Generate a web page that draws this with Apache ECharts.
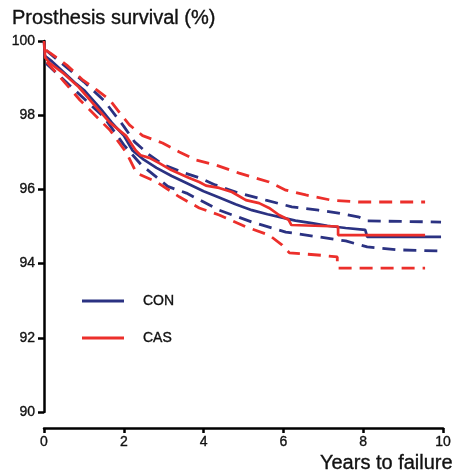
<!DOCTYPE html>
<html>
<head>
<meta charset="utf-8">
<script src="https://cdn.jsdelivr.net/npm/echarts@6/dist/echarts.min.js"></script>
<style>
html,body{margin:0;padding:0;background:#fff;}
#c{width:454px;height:474px;}
</style>
</head>
<body>
<div id="c"></div>
<script>
// Kaplan-Meier curves: [years, survival %]
var conSurv = [[0,100],[0.02,99.6],[0.2,99.45],[0.5,99.15],[0.8,98.85],[1.0,98.68],[1.4,98.2],[1.7,97.8],[2.0,97.45],[2.22,97.05],[2.5,96.8],[2.82,96.58],[3.2,96.36],[3.57,96.17],[4.0,95.95],[4.39,95.78],[4.8,95.6],[5.21,95.44],[5.6,95.33],[5.89,95.26],[6.3,95.16],[6.71,95.09],[7.1,95.02],[7.56,94.96],[8.05,94.91],[8.1,94.72],[9.95,94.72]];
var conUpper = [[0.05,99.75],[0.5,99.35],[1.0,98.9],[1.5,98.4],[2.0,97.7],[2.27,97.28],[2.64,96.93],[2.97,96.68],[3.45,96.47],[3.9,96.31],[4.29,96.12],[4.89,95.9],[5.56,95.71],[6.21,95.53],[6.88,95.44],[7.38,95.36],[7.9,95.25],[8.1,95.15],[9.95,95.12]];
var conLower = [[0.05,99.4],[0.5,98.95],[1.0,98.45],[1.5,97.95],[2.0,97.2],[2.44,96.66],[2.82,96.33],[3.1,96.08],[3.57,95.9],[4.39,95.44],[5.21,95.12],[6.06,94.85],[6.88,94.72],[7.56,94.61],[8.1,94.45],[8.88,94.37],[9.95,94.34]];
var casSurv = [[0,100],[0.03,99.55],[0.15,99.4],[0.5,99.12],[0.87,98.76],[1.2,98.35],[1.65,97.8],[2.05,97.45],[2.3,97.05],[2.42,96.92],[2.64,96.85],[2.9,96.7],[3.19,96.52],[3.64,96.31],[3.89,96.2],[4.06,96.1],[4.39,96.04],[4.71,95.93],[5.06,95.71],[5.39,95.63],[5.64,95.5],[5.89,95.31],[6.13,95.18],[6.2,95.04],[7.37,95.0],[7.37,94.77],[9.55,94.77]];
var casUpper = [[0.05,99.75],[0.15,99.68],[0.57,99.35],[0.97,98.95],[1.32,98.68],[1.65,98.41],[1.9,98.06],[2.14,97.74],[2.47,97.45],[2.97,97.25],[3.39,97.01],[3.82,96.79],[4.3,96.66],[4.89,96.44],[5.64,96.2],[6.06,95.98],[6.56,95.85],[7.2,95.71],[7.88,95.66],[9.55,95.66]];
var casLower = [[0.07,99.43],[0.4,99.03],[0.9,98.41],[1.65,97.6],[2.07,96.98],[2.32,96.44],[2.82,96.2],[3.39,95.8],[3.89,95.5],[4.39,95.31],[5.06,94.99],[5.64,94.77],[5.97,94.5],[6.15,94.29],[7.0,94.22],[7.35,94.18],[7.35,93.88],[9.55,93.88]];
var groups = ['CON','CAS'];
var xTicks = [0,2,4,6,8,10];
var yTicks = [90,92,94,96,98,100];

var BLUE = '#2b3282', RED = '#ec2f2b';
var FONT = "'Liberation Sans', Arial, Helvetica, sans-serif";
var TXT = {fontFamily: FONT, color: '#111', textBorderColor: '#111', textBorderWidth: 0.35};
function ts(extra){ var o = {}; for (var k in TXT) o[k] = TXT[k]; for (var j in extra) o[j] = extra[j]; return o; }

function ln(name, data, color, dashed){
  return {
    name: name, type: 'line', data: data, showSymbol: false, symbol: 'none',
    silent: true, animation: false,
    lineStyle: {color: color, width: dashed ? 2.8 : 2.7, type: dashed ? [13, 8] : 'solid', cap: 'butt'},
    itemStyle: {color: color}
  };
}

var chart = echarts.init(document.getElementById('c'), null, {renderer: 'canvas'});
chart.setOption({
  backgroundColor: '#fff',
  animation: false,
  title: [
    {text: 'Prosthesis survival (%)', left: 7, top: 3, textStyle: ts({fontSize: 20, fontWeight: 'normal'})},
    {text: 'Years to failure', right: -4, top: 448, textStyle: ts({fontSize: 20, fontWeight: 'normal'})}
  ],
  legend: {
    data: groups, orient: 'vertical', left: 82, top: 293, padding: 0, icon: 'rect',
    itemWidth: 42, itemHeight: 3, itemGap: 21, selectedMode: false,
    textStyle: ts({fontSize: 14, lineHeight: 16, padding: [0, 0, 0, 14]})
  },
  grid: {left: 44, right: 9, top: 41, bottom: 62, containLabel: false},
  xAxis: {
    type: 'value', min: xTicks[0], max: xTicks[xTicks.length-1], interval: 2, offset: 16,
    axisLine: {show: true, lineStyle: {color: '#000', width: 2.5}},
    axisTick: {show: true, length: 5, lineStyle: {color: '#000', width: 2.5}},
    axisLabel: ts({margin: 7, fontSize: 14}),
    splitLine: {show: false}
  },
  yAxis: {
    type: 'value', min: yTicks[0], max: yTicks[yTicks.length-1], interval: 2,
    axisLine: {show: true, lineStyle: {color: '#000', width: 2.5}},
    axisTick: {show: true, length: 6, lineStyle: {color: '#000', width: 2.5}},
    axisLabel: ts({margin: 9, fontSize: 14}),
    splitLine: {show: false}
  },
  series: [
    ln('CON upper', conUpper, BLUE, true),
    ln('CON lower', conLower, BLUE, true),
    ln('CAS upper', casUpper, RED, true),
    ln('CAS lower', casLower, RED, true),
    ln(groups[0], conSurv, BLUE, false),
    ln(groups[1], casSurv, RED, false)
  ]
});
</script>
</body>
</html>
